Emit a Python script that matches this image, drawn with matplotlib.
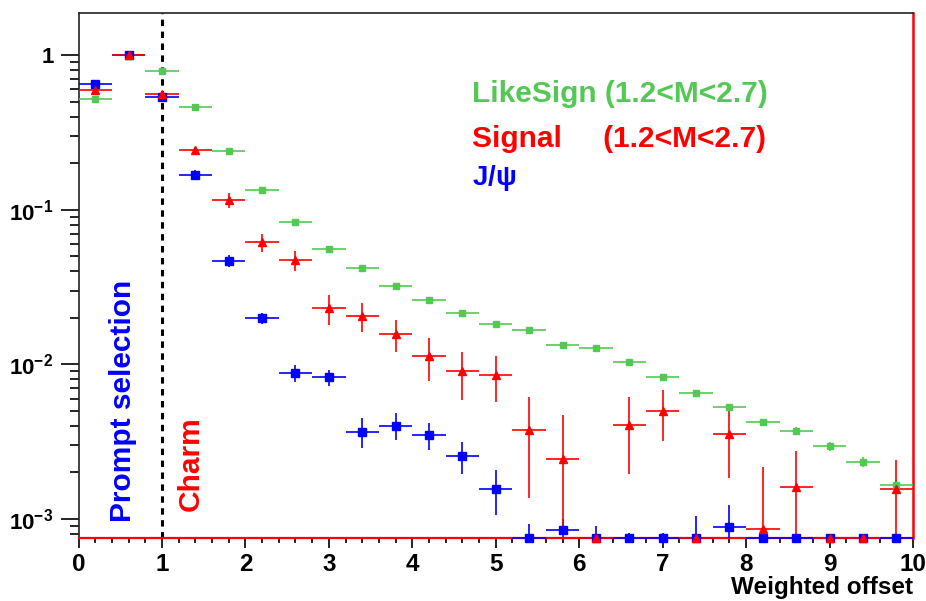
"""Weighted-offset distributions for like-sign, signal and J/psi dimuons."""

import matplotlib
matplotlib.use("Agg")
import matplotlib.pyplot as plt
import numpy as np
from matplotlib.ticker import FixedLocator, FuncFormatter, LogLocator, NullFormatter

# 25 bins of width 0.4 between 0 and 10
bin_edges = np.linspace(0.0, 10.0, 26)

likesign = [0.517, 1.0, 0.792, 0.461, 0.241, 0.134, 0.0837, 0.056, 0.0418, 0.032,
            0.026, 0.0216, 0.0182, 0.0167, 0.0133, 0.0127, 0.0104, 0.00833, 0.0065,
            0.00527, 0.00421, 0.00371, 0.00296, 0.00234, 0.00166]
likesign_err = [0.01, 0.015, 0.012, 0.008, 0.005, 0.003, 0.0018, 0.0012, 0.0009, 0.0007,
                0.0006, 0.0005, 0.0005, 0.0005, 0.0004, 0.0004, 0.0003, 0.0003, 0.00025,
                0.00022, 0.0002, 0.0002, 0.0002, 0.00016, 0.00012]

signal = [0.594, 1.0, 0.557, 0.243, 0.1155, 0.0615, 0.0473, 0.023, 0.0205, 0.0157,
          0.0113, 0.009, 0.0085, 0.00377, 0.00243, 0.0, 0.00406, 0.005, 0.0,
          0.00353, 0.00086, 0.00162, 0.0, 0.0, 0.00156]
signal_err = [0.03, 0.03, 0.02, 0.01, 0.013, 0.0085, 0.007, 0.0051, 0.0043, 0.0037,
              0.0035, 0.0031, 0.0028, 0.0024, 0.0023, 0.0, 0.0021, 0.0018, 0.0,
              0.0017, 0.0013, 0.00115, 0.0, 0.0, 0.00085]

jpsi = [0.645, 1.0, 0.533, 0.168, 0.0466, 0.0199, 0.00884, 0.00824, 0.00367, 0.00402,
        0.0035, 0.00257, 0.00157, 0.0, 0.00085, 0.0, 0.0, 0.0, 0.0,
        0.00089, 0.0, 0.0, 0.0, 0.0, 0.0]
jpsi_err = [0.045, 0.05, 0.02, 0.012, 0.004, 0.0017, 0.0011, 0.001, 0.0008, 0.0008,
            0.0007, 0.0006, 0.0005, 0.00093, 0.00015, 0.0009, 0.00081, 0.00081, 0.00104,
            0.00034, 0.0, 0.0, 0.0008, 0.0008, 0.0]

prompt_cut = 1.0
y_range = (7.54e-4, 1.87)

GREEN = "#54c854"
RED = "#ff0000"
BLUE = "#0000ff"

plt.rcParams["font.family"] = ["Liberation Sans", "DejaVu Sans"]
plt.rcParams["font.weight"] = "bold"
plt.rcParams["mathtext.fontset"] = "custom"
plt.rcParams["mathtext.rm"] = "Liberation Sans"
plt.rcParams["mathtext.bf"] = "Liberation Sans:bold"
plt.rcParams["mathtext.it"] = "Liberation Sans:italic"


def draw_histogram(ax, values, errors, color, marker, size):
    """Draw a histogram as points with bin-width x errors, empty bins pinned to the floor."""
    centers = 0.5 * (bin_edges[:-1] + bin_edges[1:])
    half_width = 0.5 * np.diff(bin_edges)
    values = np.asarray(values, dtype=float)
    errors = np.asarray(errors, dtype=float)
    floor = y_range[0]
    shown = np.maximum(values, floor)
    upper = np.maximum(values + errors, floor) - shown
    lower = shown - np.maximum(values - errors, floor)
    ax.errorbar(centers, shown, xerr=half_width, yerr=[lower, upper],
                fmt=marker, color=color, ecolor=color, markersize=size,
                elinewidth=1.2, capsize=0, clip_on=False, zorder=4)


fig, ax = plt.subplots(figsize=(9.26, 6.01), dpi=100)
fig.subplots_adjust(left=0.0848, right=0.986, bottom=0.1048, top=0.9784)

ax.set_yscale("log")
ax.set_xlim(bin_edges[0], bin_edges[-1])
ax.set_ylim(*y_range)

draw_histogram(ax, likesign, likesign_err, GREEN, "s", 4.2)
draw_histogram(ax, jpsi, jpsi_err, BLUE, "s", 5.2)
draw_histogram(ax, signal, signal_err, RED, "^", 5.2)

ax.axhline(y_range[0], color=RED, linewidth=1.6, zorder=3, clip_on=False)
ax.axvline(prompt_cut, color="black", linewidth=2.2, linestyle=(0, (2.1, 1.8)), zorder=2)

# axis frame and ticks
for side in ("top", "left", "bottom"):
    ax.spines[side].set_linewidth(1.2)
    ax.spines[side].set_color("#222222")
ax.spines["right"].set_color(RED)
ax.spines["right"].set_linewidth(1.8)

ax.xaxis.set_major_locator(FixedLocator(np.arange(0, 11)))
ax.xaxis.set_minor_locator(FixedLocator(np.arange(0, 10.01, 0.2)))
ax.yaxis.set_major_locator(LogLocator(base=10, numticks=10))
ax.yaxis.set_minor_locator(LogLocator(base=10, subs=np.arange(2, 10), numticks=20))
ax.yaxis.set_minor_formatter(NullFormatter())


def decade_label(value, _pos):
    exponent = int(round(np.log10(value)))
    if exponent == 0:
        return "1"
    return r"$\mathbf{10^{%d}}$" % exponent


ax.yaxis.set_major_formatter(FuncFormatter(decade_label))
ax.xaxis.set_major_formatter(FuncFormatter(lambda v, _p: "%d" % v))

ax.tick_params(axis="y", which="major", direction="out", length=13, width=1.2,
               labelsize=16, pad=5)
ax.tick_params(axis="y", which="minor", direction="out", length=6.5, width=1.2)
ax.tick_params(axis="x", which="major", direction="out", length=7, width=1.2,
               labelsize=17.5, pad=4)
ax.tick_params(axis="x", which="minor", direction="out", length=3.5, width=1.2)

ax.set_xlabel("Weighted offset", fontsize=17.5, fontweight="bold")
ax.xaxis.label.set_ha("right")
ax.xaxis.label.set_va("center")
ax.xaxis.set_label_coords(1.0, -0.095)

# sample labels
ax.text(0.4716, 0.831, "LikeSign (1.2<M<2.7)", transform=ax.transAxes,
        color=GREEN, fontsize=21.5, fontweight="bold", va="baseline")
ax.text(0.4716, 0.7453, "Signal     (1.2<M<2.7)", transform=ax.transAxes,
        color=RED, fontsize=21.5, fontweight="bold", va="baseline")
ax.text(0.4716, 0.6724, r"$\mathbf{J/}\mathrm{\psi}$", transform=ax.transAxes,
        color=BLUE, fontsize=20, va="baseline")

# selection regions
ax.text(0.0533, 0.0305, "Prompt selection", transform=ax.transAxes, rotation=90,
        color=BLUE, fontsize=21.5, fontweight="bold", ha="center", va="bottom")
ax.text(0.1347, 0.0514, "Charm", transform=ax.transAxes, rotation=90,
        color=RED, fontsize=21.5, fontweight="bold", ha="center", va="bottom")

fig.savefig("out.png", dpi=100)
